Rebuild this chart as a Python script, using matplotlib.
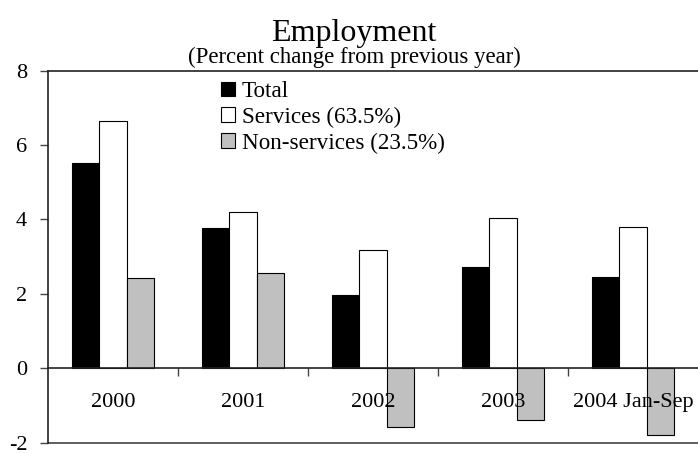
import matplotlib
matplotlib.use("Agg")
import matplotlib.pyplot as plt
import numpy as np

categories = ["2000", "2001", "2002", "2003", "2004 Jan-Sep"]
total = [5.53, 3.77, 1.98, 2.71, 2.46]
services = [6.65, 4.19, 3.19, 4.05, 3.80]
non_services = [2.43, 2.55, -1.57, -1.40, -1.80]
series_names = ["Total", "Services (63.5%)", "Non-services (23.5%)"]
yticks = [-2, 0, 2, 4, 6, 8]

plt.rcParams['font.family'] = ['Liberation Serif', 'DejaVu Serif']

fig = plt.figure(figsize=(6.98, 4.53), dpi=100)
ax = fig.add_axes([48/698, 1 - 442.7/453, 650/698, (442.7 - 70.7)/453])

x = np.arange(len(categories))
w = 0.21
colors = ["#000000", "#ffffff", "#c0c0c0"]
for i, (vals, name, c) in enumerate(zip([total, services, non_services], series_names, colors)):
    ax.bar(x + (i - 1) * w, vals, w, color=c, edgecolor="#000000", linewidth=0.8, label=name, zorder=2)

ax.set_xlim(-0.5, len(categories) - 0.5)
ax.set_ylim(-2, 8)
ax.set_yticks(yticks)
ax.set_yticklabels([str(t) for t in yticks], fontsize=16)
ax.tick_params(axis='y', direction='out', length=6, width=1, pad=9, color="#444444")

# x axis at zero
ax.spines['bottom'].set_position(('data', 0))
ax.spines['bottom'].set_zorder(3)
ax.set_xticks(np.arange(len(categories) - 1) + 0.5)
ax.set_xticklabels([])
ax.tick_params(axis='x', direction='out', length=6, width=1, color="#444444")
ax.axhline(-2, color="#444444", linewidth=1.2, clip_on=False)
ax.spines['right'].set_visible(False)
for s in ['left', 'top', 'bottom']:
    ax.spines[s].set_linewidth(1.2)
    ax.spines[s].set_color("#222222")

for xi, lab in zip(x, categories):
    ax.text(xi, -0.92, lab, ha='center', va='center', fontsize=16, zorder=4)

leg = ax.legend(loc='upper left', bbox_to_anchor=(0.266, 0.972), frameon=False,
                fontsize=16.7, handlelength=0.62, handleheight=0.6, handletextpad=0.28,
                labelspacing=0.2, borderpad=0, borderaxespad=0)

fig.text(0.507, 1 - 33/453, "Employment", ha='center', va='center', fontsize=23)
fig.text(0.507, 1 - 57/453, "(Percent change from previous year)", ha='center', va='center', fontsize=16.4)

fig.savefig("out.png", dpi=100)
